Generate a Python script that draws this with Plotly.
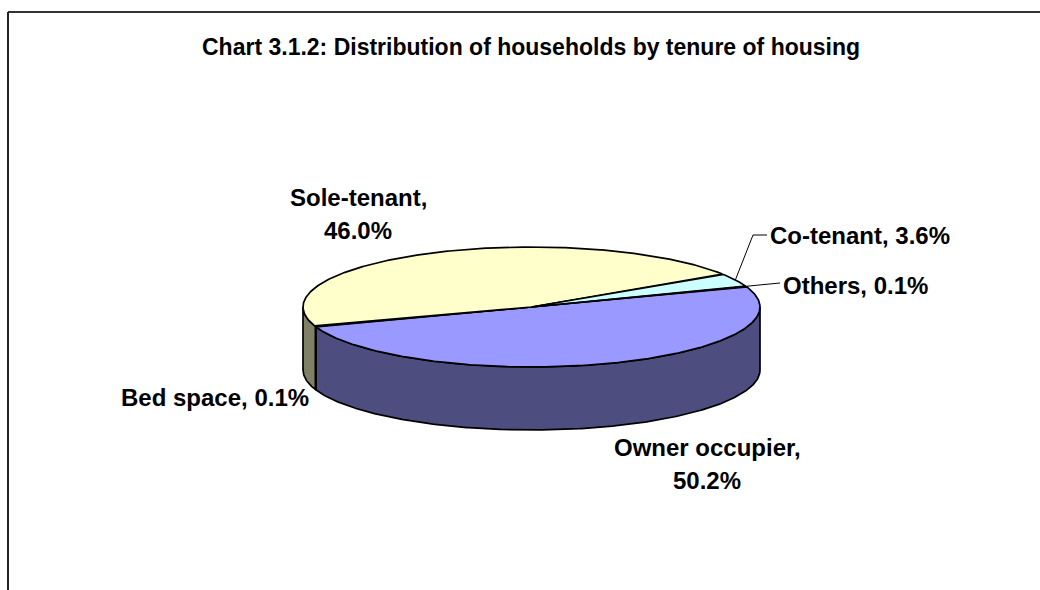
import numpy as np
import plotly.graph_objects as go

# ---- data (clockwise order as drawn) ----
categories = ["Owner occupier", "Bed space", "Sole-tenant", "Co-tenant", "Others"]
values = [50.2, 0.1, 46.0, 3.6, 0.1]
value_labels = ["50.2%", "0.1%", "46.0%", "3.6%", "0.1%"]
top_colors = ["#9999FF", "#993366", "#FFFFCC", "#CCFFFF", "#660066"]
side_colors = ["#4D4D80", "#4D1A33", "#808066", "#668080", "#330033"]
title_text = "Chart 3.1.2: Distribution of households by tenure of housing"

# ---- geometry (pixel space) ----
W, H = 1040, 590
CX, CY, RX, RY, DEPTH = 531.5, 307.0, 228.5, 60.0, 63.0
START_DEG = -20.0  # screen angle (clockwise from 3 o'clock) where first slice starts
FONT = "Liberation Sans, Arial, sans-serif"


def pt(theta_deg, dy=0.0):
    t = np.radians(theta_deg)
    return CX + RX * np.cos(t), CY + RY * np.sin(t) + dy


total = float(sum(values))
spans = [v / total * 360.0 for v in values]
bounds = np.concatenate([[START_DEG], START_DEG + np.cumsum(spans)])

fig = go.Figure()

# side walls (only front half, screen angles 0..180 visible)
for i, cat in enumerate(categories):
    a0, a1 = bounds[i], bounds[i + 1]
    for vis0, vis1 in [(0.0, 180.0), (360.0, 540.0)]:
        lo, hi = max(a0, vis0), min(a1, vis1)
        if hi <= lo:
            continue
        n = max(3, int((hi - lo) * 2))
        th = np.linspace(lo, hi, n)
        xt, yt = pt(th)
        xb, yb = pt(th[::-1], DEPTH)
        xs = np.concatenate([xt, xb, xt[:1]])
        ys = np.concatenate([yt, yb, yt[:1]])
        fig.add_trace(go.Scatter(x=xs, y=ys, mode="lines", fill="toself",
                                 fillcolor=side_colors[i],
                                 line=dict(color="black", width=1.7),
                                 hoverinfo="skip", showlegend=False))

# top faces
for i, cat in enumerate(categories):
    a0, a1 = bounds[i], bounds[i + 1]
    n = max(3, int((a1 - a0) * 2))
    th = np.linspace(a0, a1, n)
    xa, ya = pt(th)
    xs = np.concatenate([[CX], xa, [CX]])
    ys = np.concatenate([[CY], ya, [CY]])
    fig.add_trace(go.Scatter(x=xs, y=ys, mode="lines", fill="toself",
                             fillcolor=top_colors[i],
                             line=dict(color="black", width=1.7),
                             name=cat, text=f"{cat}, {value_labels[i]}",
                             hoverinfo="text", showlegend=False))

# leader lines for small slices (start on slice rim midpoint)
mid = [(bounds[i] + bounds[i + 1]) / 2 for i in range(len(categories))]
ico, iot = categories.index("Co-tenant"), categories.index("Others")
x0, y0 = pt(mid[ico])
fig.add_trace(go.Scatter(x=[x0, 753, 767], y=[y0, 235, 235], mode="lines",
                         line=dict(color="black", width=1), hoverinfo="skip",
                         showlegend=False))
x0, y0 = pt(mid[iot])
fig.add_trace(go.Scatter(x=[x0, 780], y=[y0, 283], mode="lines",
                         line=dict(color="black", width=1), hoverinfo="skip",
                         showlegend=False))

LBL = 24
ann = []
ann.append(dict(x=531, y=47, text=f"<b>{title_text}</b>", showarrow=False,
                font=dict(size=23, family=FONT, color="black"),
                xanchor="center", yanchor="middle"))


def label(idx, x, y, xanchor, two_lines):
    cat, vl = categories[idx], value_labels[idx]
    if two_lines:
        ann.append(dict(x=x, y=y, text=f"<b>{cat},</b>", showarrow=False,
                        font=dict(size=LBL, family=FONT, color="black"),
                        xanchor=xanchor, yanchor="middle"))
        ann.append(dict(x=x, y=y + 33, text=f"<b>{vl}</b>", showarrow=False,
                        font=dict(size=LBL, family=FONT, color="black"),
                        xanchor=xanchor, yanchor="middle"))
    else:
        ann.append(dict(x=x, y=y, text=f"<b>{cat}, {vl}</b>", showarrow=False,
                        font=dict(size=LBL, family=FONT, color="black"),
                        xanchor=xanchor, yanchor="middle"))


label(categories.index("Sole-tenant"), 358, 197, "center", True)
label(categories.index("Owner occupier"), 707, 447, "center", True)
label(ico, 768, 235, "left", False)
label(iot, 781, 285, "left", False)
label(categories.index("Bed space"), 311, 397, "right", False)

shapes = [
    dict(type="line", xref="x", yref="y", x0=8, y0=12, x1=1045, y1=12,
         line=dict(color="#333333", width=2)),
    dict(type="line", xref="x", yref="y", x0=8, y0=12, x1=8, y1=600,
         line=dict(color="#222222", width=2)),
]

fig.update_layout(
    width=W, height=H,
    margin=dict(l=0, r=0, t=0, b=0),
    paper_bgcolor="white", plot_bgcolor="white",
    xaxis=dict(range=[0, W], visible=False, fixedrange=True),
    yaxis=dict(range=[H, 0], visible=False, fixedrange=True),
    annotations=ann, shapes=shapes,
    showlegend=False,
)

fig.write_html("out.html",
               config={"displayModeBar": False},
               post_script="document.body.style.margin='0';document.body.style.overflow='hidden';")
